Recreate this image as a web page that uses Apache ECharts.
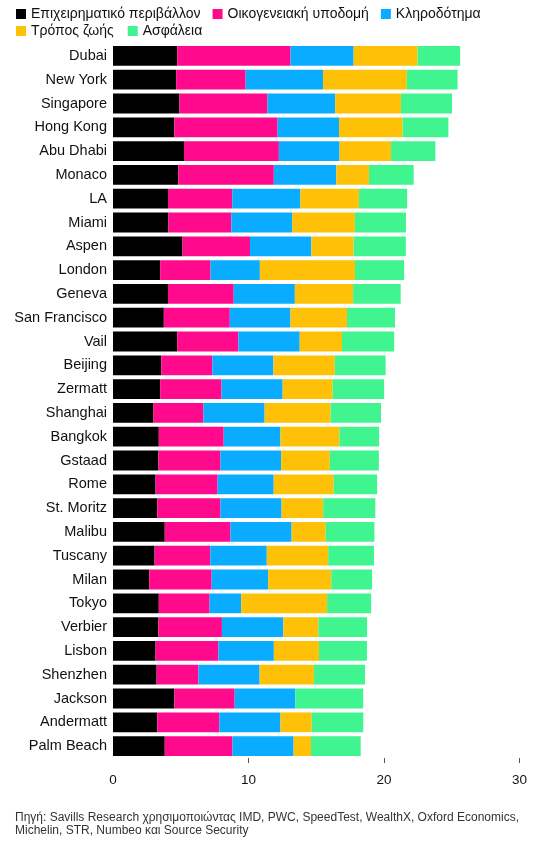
<!DOCTYPE html>
<html>
<head>
<meta charset="utf-8">
<script src="https://cdn.jsdelivr.net/npm/echarts@6/dist/echarts.min.js"></script>
<style>
html,body{margin:0;padding:0;background:#fff;}
#chart{width:557px;height:847px;}
</style>
</head>
<body>
<div id="chart"></div>
<script>
const categories = ["Dubai","New York","Singapore","Hong Kong","Abu Dhabi","Monaco","LA","Miami","Aspen","London","Geneva","San Francisco","Vail","Beijing","Zermatt","Shanghai","Bangkok","Gstaad","Rome","St. Moritz","Malibu","Tuscany","Milan","Tokyo","Verbier","Lisbon","Shenzhen","Jackson","Andermatt","Palm Beach"];
const business  = [4.74,4.66,4.90,4.53,5.24,4.82,4.06,4.09,5.13,3.48,4.06,3.75,4.74,3.56,3.48,2.99,3.38,3.35,3.14,3.27,3.82,3.07,2.67,3.38,3.35,3.14,3.22,4.53,3.27,3.82];
const family    = [8.36,5.13,6.50,7.62,7.00,7.05,4.74,4.64,4.98,3.72,4.85,4.87,4.51,3.77,4.53,3.69,4.79,4.58,4.58,4.66,4.85,4.11,4.61,3.75,4.69,4.64,3.09,4.45,4.58,5.00];
const legacy    = [4.66,5.71,5.00,4.53,4.48,4.61,5.03,4.51,4.53,3.64,4.51,4.48,4.53,4.51,4.51,4.51,4.19,4.48,4.14,4.51,4.51,4.17,4.17,2.33,4.53,4.09,4.51,4.48,4.51,4.51];
const lifestyle = [4.72,6.18,4.85,4.69,3.80,2.41,4.32,4.61,3.12,7.02,4.30,4.17,3.12,4.53,3.69,4.87,4.35,3.59,4.43,3.07,2.52,4.53,4.66,6.34,2.59,3.33,4.01,0,2.31,1.28];
const safety    = [3.14,3.75,3.77,3.38,3.27,3.30,3.56,3.77,3.85,3.62,3.51,3.54,3.85,3.75,3.80,3.72,2.93,3.62,3.20,3.85,3.59,3.38,3.01,3.25,3.59,3.54,3.77,5.00,3.80,3.67];
const seriesNames = ["Επιχειρηματικό περιβάλλον","Οικογενειακή υποδομή","Κληροδότημα","Τρόπος ζωής","Ασφάλεια"];
const xTicks = [10,20,30];
const sourceText = "Πηγή: Savills Research χρησιμοποιώντας IMD, PWC, SpeedTest, WealthX, Oxford Economics,\nMichelin, STR, Numbeo και Source Security";

const colors = ["#000000","#FF0A8C","#0AACFF","#FFC107","#40F490"];
const seriesData = [business,family,legacy,lifestyle,safety];
const font = "'Liberation Sans', Arial, sans-serif";

const chart = echarts.init(document.getElementById('chart'), null, {renderer:'canvas'});
const legendCommon = {
  itemWidth: 10, itemHeight: 10, icon: 'rect',
  textStyle: {fontFamily: font, fontSize: 14, color: '#111', padding:[0,0,0,0]},
  selectedMode: false, orient: 'horizontal', padding: 0
};
chart.setOption({
  animation: false,
  color: colors,
  textStyle: {fontFamily: font},
  legend: [
    Object.assign({}, legendCommon, {left: 16, top: 7, itemGap: 12, data: seriesNames.slice(0,3)}),
    Object.assign({}, legendCommon, {left: 16, top: 24, itemGap: 14, data: seriesNames.slice(3)})
  ],
  grid: {left: 113, right: 37.5, top: 44, bottom: 89, containLabel: false},
  xAxis: {
    type: 'value', min: 0, max: 30, interval: 10,
    axisLine: {show: false},
    splitLine: {show: false},
    axisTick: {show: true, length: 5, lineStyle: {color: '#555', width: 1}, customValues: xTicks},
    axisLabel: {fontFamily: font, fontSize: 13.5, color: '#111', margin: 15}
  },
  yAxis: {
    type: 'category', data: categories, inverse: true,
    axisLine: {show: false}, axisTick: {show: false},
    axisLabel: {fontFamily: font, fontSize: 14.5, color: '#111', margin: 6}
  },
  graphic: [{
    type: 'text', left: 15, top: 810.5,
    style: {text: sourceText, font: "12px " + font, fill: '#333', lineHeight: 13.5}
  }],
  series: seriesNames.map((n,i) => ({
    name: n, type: 'bar', stack: 'total', data: seriesData[i],
    barCategoryGap: '17%',
    itemStyle: {color: colors[i]}
  }))
});
</script>
</body>
</html>
